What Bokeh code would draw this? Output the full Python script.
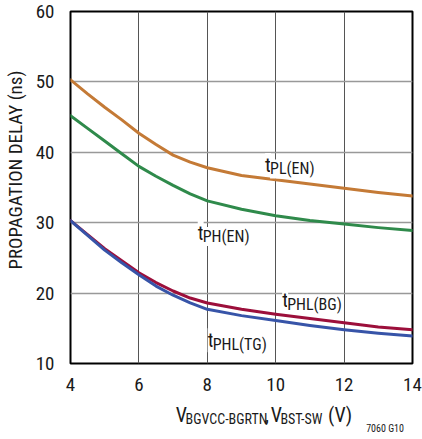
from bokeh.plotting import figure
from bokeh.models import Label, FixedTicker, Range1d
from bokeh.layouts import column
from bokeh.embed import file_html
from bokeh.resources import INLINE

# ---- data ----
x_vals = [4, 4.5, 5, 5.5, 6, 6.5, 7, 7.5, 8, 9, 10, 11, 12, 13, 14]
t_pl_en = [50.3, 48.3, 46.4, 44.6, 42.7, 41.1, 39.6, 38.6, 37.8, 36.7, 36.1, 35.5, 34.9, 34.3, 33.8]
t_ph_en = [45.2, 43.4, 41.6, 39.8, 38.0, 36.6, 35.3, 34.1, 33.1, 31.9, 31.0, 30.3, 29.8, 29.3, 28.9]
t_phl_bg = [30.3, 28.3, 26.3, 24.6, 22.9, 21.5, 20.3, 19.3, 18.6, 17.7, 17.0, 16.4, 15.8, 15.2, 14.8]
t_phl_tg = [30.3, 28.2, 26.1, 24.3, 22.6, 21.0, 19.7, 18.6, 17.7, 16.8, 16.1, 15.4, 14.8, 14.3, 13.9]
x_ticks = [4, 6, 8, 10, 12, 14]
y_ticks = [10, 20, 30, 40, 50, 60]

FONT = "'Roboto Condensed', 'DejaVu Sans Condensed', 'Liberation Sans Narrow', 'Liberation Sans', sans-serif"
TXT = "#1a1a1a"

p = figure(width=422, height=395, output_backend="svg", toolbar_location=None,
           x_range=Range1d(4, 14), y_range=Range1d(10, 60),
           min_border_left=60, min_border_right=10, min_border_top=11, min_border_bottom=32)

p.outline_line_color = "black"
p.outline_line_width = 2
p.background_fill_color = "white"
p.border_fill_color = "white"

p.xgrid.grid_line_color = "#555555"
p.xgrid.grid_line_width = 1
p.ygrid.grid_line_color = "#999999"
p.ygrid.grid_line_width = 1.6

for ax in (p.xaxis, p.yaxis):
    ax.axis_line_color = None
    ax.major_tick_line_color = None
    ax.minor_tick_line_color = None
    ax.major_label_text_font = FONT
    ax.major_label_text_font_size = "19px"
    ax.major_label_text_color = TXT
p.xaxis.ticker = FixedTicker(ticks=x_ticks)
p.yaxis.ticker = FixedTicker(ticks=y_ticks)
p.xaxis.major_label_standoff = 8
p.yaxis.major_label_standoff = 10

p.yaxis.axis_label = "\u00a0" * 8 + "PROPAGATION DELAY (ns)"
p.yaxis.axis_label_text_font = FONT
p.yaxis.axis_label_text_font_size = "19px"
p.yaxis.axis_label_text_font_style = "normal"
p.yaxis.axis_label_text_color = TXT
p.yaxis.axis_label_standoff = 6

colors = ["#C47A36", "#2F8A4B", "#9C0F3B", "#3754A8"]
for ys, c in zip([t_pl_en, t_ph_en, t_phl_bg, t_phl_tg], colors):
    p.line(x_vals, ys, line_color=c, line_width=3, line_join="round", line_cap="round")

def sublabel(x, y, sub):
    p.add_layout(Label(x=x, y=y, text="t", text_font=FONT, text_font_size="20px",
                       text_color=TXT, text_baseline="alphabetic", text_align="left",
                       background_fill_color="white"))
    p.add_layout(Label(x=x, y=y, text=sub, text_font=FONT, text_font_size="16px",
                       text_color=TXT, text_baseline="alphabetic", text_align="left",
                       background_fill_color="white", x_offset=5, y_offset=-4))

sublabel(9.69, 38.2, "PL(EN)")
sublabel(7.72, 28.6, "PH(EN)")
sublabel(10.19, 19.0, "PHL(BG)")
sublabel(8.01, 13.3, "PHL(TG)")

# ---- strip below the chart for the x-axis title (pixel coordinates) ----
q = figure(width=422, height=44, output_backend="svg", toolbar_location=None,
           x_range=Range1d(0, 422), y_range=Range1d(0, 44),
           x_axis_location=None, y_axis_location=None,
           min_border_left=0, min_border_right=0, min_border_top=0, min_border_bottom=0)
q.grid.visible = False
q.outline_line_color = None
q.background_fill_color = "white"
q.border_fill_color = "white"

pieces = [("V", 20, 0, 0), ("BGVCC-BGRTN", 14, 12, -4), (",", 20, 110, 0), ("V", 20, 117, 0),
          ("BST-SW", 14, 129, -4), ("\u00a0(V)", 20, 182, 0)]
start = 130
for txt, fs, off, dy in pieces:
    q.add_layout(Label(x=start + off, y=25 + dy, text=txt, text_font=FONT,
                       text_font_size=f"{fs}px", text_color=TXT,
                       text_baseline="alphabetic", text_align="left"))

q.add_layout(Label(x=411.5, y=11, text="7060 G10", text_font=FONT, text_font_size="10px",
                   text_color=TXT, text_align="right", text_baseline="middle"))

open("out.html", "w").write(file_html(column(p, q), INLINE))
